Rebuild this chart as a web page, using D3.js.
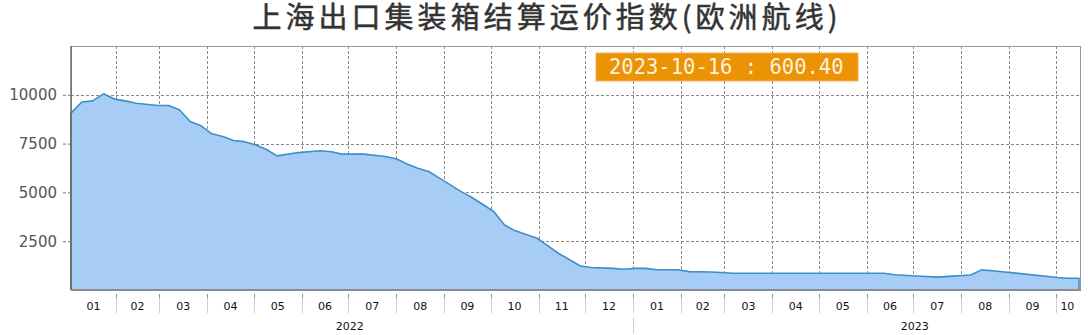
<!DOCTYPE html>
<html>
<head>
<meta charset="utf-8">
<script src="https://cdn.jsdelivr.net/npm/d3@7"></script>
<style>
  body { margin: 0; background: #fff; }
  svg { display: block; }
</style>
</head>
<body>
<div id="chart"></div>
<script>
var WIDTH = 1088
var HEIGHT = 335

// weekly index readings (vertices of the curve)
var dates = ["2022-01-03","2022-01-10","2022-01-17","2022-01-24","2022-01-31","2022-02-07","2022-02-14","2022-02-28",
  "2022-03-07","2022-03-14","2022-03-21","2022-03-28","2022-04-04","2022-04-11","2022-04-18","2022-04-25",
  "2022-05-02","2022-05-09","2022-05-16","2022-05-30","2022-06-13","2022-06-20","2022-06-27","2022-07-11",
  "2022-07-25","2022-08-01","2022-08-08","2022-08-15","2022-08-22","2022-08-29","2022-09-12","2022-09-19",
  "2022-10-03","2022-10-10","2022-10-17","2022-10-31","2022-11-07","2022-11-14","2022-11-28","2022-12-05",
  "2022-12-19","2022-12-26","2023-01-02","2023-01-09","2023-01-16","2023-01-30","2023-02-06","2023-02-20",
  "2023-02-27","2023-03-06","2023-04-03","2023-05-08","2023-06-12","2023-06-19","2023-07-03","2023-07-17",
  "2023-07-24","2023-08-07","2023-08-14","2023-08-21","2023-10-02","2023-10-09","2023-10-16"]
var values = [9060,9630,9690,10050,9780,9690,9570,9450,
  9450,9230,8630,8410,8000,7860,7660,7600,
  7440,7210,6870,7040,7130,7080,6960,6960,
  6840,6720,6460,6240,6070,5730,5040,4740,
  4020,3330,3030,2650,2260,1870,1230,1150,
  1110,1060,1110,1110,1040,1040,940,920,
  900,860,855,855,855,780,720,660,
  700,770,1030,990,640,605,600.40]
var yTicks = [2500,5000,7500,10000]
var years = ["2022","2023"]
var title = "上海出口集装箱结算运价指数(欧洲航线)"
var lastLabel = "2023-10-16 : 600.40"

var parse = d3.timeParse("%Y-%m-%d")
var data = dates.map(function(d,i){ return {date: parse(d), value: values[i]} })

var pLeft = 71, pRight = 1079, pTop = 46, pBottom = 290, frameRight = 1081
var start = data[0].date, end = data[data.length-1].date

var x = d3.scaleTime().domain([start, end]).range([pLeft, pRight])
var y = d3.scaleLinear().domain([0, 12500]).range([pBottom, pTop])

var svg = d3.select("#chart").append("svg")
  .attr("width", WIDTH)
  .attr("height", HEIGHT)

// title
svg.append("text")
  .attr("x", 545).attr("y", 28)
  .attr("text-anchor", "middle")
  .attr("textLength", 585)
  .attr("lengthAdjust", "spacing")
  .style("font-family", "'Noto Sans CJK SC', sans-serif")
  .style("font-size", "29px")
  .style("fill", "#333")
  .style("stroke", "#333")
  .style("stroke-width", 0.5)
  .text(title)

var months = d3.timeMonth.range(d3.timeMonth.ceil(start), end)

// area
var area = d3.area()
  .x(function(d){ return x(d.date) })
  .y0(y(0))
  .y1(function(d){ return y(d.value) })

svg.append("path")
  .datum(data)
  .attr("d", area)
  .attr("fill", "#a7ccf5")
  .attr("stroke", "none")

// grid
var grid = svg.append("g")
grid.selectAll(".vg").data(months).enter().append("line")
  .attr("x1", function(d){ return Math.round(x(d)) + 0.5 })
  .attr("x2", function(d){ return Math.round(x(d)) + 0.5 })
  .attr("y1", pTop).attr("y2", pBottom)
  .attr("stroke", "#8a8a8a").attr("stroke-dasharray", "3,2")
grid.selectAll(".hg").data(yTicks).enter().append("line")
  .attr("x1", pLeft).attr("x2", frameRight)
  .attr("y1", function(d){ return Math.round(y(d)) + 0.5 })
  .attr("y2", function(d){ return Math.round(y(d)) + 0.5 })
  .attr("stroke", "#8a8a8a").attr("stroke-dasharray", "3,2")

// redraw the area over the grid (grid only shows above the curve)
svg.append("path")
  .datum(data)
  .attr("d", area)
  .attr("fill", "#a7ccf5")

// outline
var line = d3.line()
  .x(function(d){ return x(d.date) })
  .y(function(d){ return y(d.value) })
var outline = [{date: start, value: 0}].concat(data).concat([{date: end, value: 0}])
svg.append("path")
  .datum(outline)
  .attr("d", line)
  .attr("fill", "none")
  .attr("stroke", "#3d8fc8")
  .attr("stroke-width", 1.6)
  .attr("stroke-linejoin", "round")

// frame
svg.append("rect")
  .attr("x", pLeft + 0.5).attr("y", pTop + 0.5)
  .attr("width", frameRight - pLeft - 1).attr("height", pBottom - pTop)
  .attr("fill", "none").attr("stroke", "#999")
svg.append("line")
  .attr("x1", pLeft).attr("x2", pLeft)
  .attr("y1", pTop).attr("y2", pBottom)
  .attr("stroke", "#555").attr("stroke-width", 1.2)
svg.append("line")
  .attr("x1", pLeft).attr("x2", frameRight)
  .attr("y1", pBottom).attr("y2", pBottom)
  .attr("stroke", "#8c8c8c").attr("stroke-width", 1.8)

// y axis
var yAxis = svg.append("g")
  .attr("transform", "translate(" + pLeft + ",0)")
  .call(d3.axisLeft(y).tickValues(yTicks).tickFormat(d3.format("d")).tickSizeInner(9).tickSizeOuter(0).tickPadding(5))
yAxis.select(".domain").remove()
yAxis.selectAll("line").attr("stroke", "#777").attr("stroke-dasharray", "3,2")
yAxis.selectAll("text")
  .style("font-family", "'DejaVu Sans', sans-serif")
  .style("font-size", "15px")
  .attr("fill", "#555")

// month separators and labels
var fmt = d3.timeFormat("%m")
var sep = svg.append("g")
sep.selectAll("line").data(months).enter().append("line")
  .attr("x1", function(d){ return Math.round(x(d)) + 0.5 })
  .attr("x2", function(d){ return Math.round(x(d)) + 0.5 })
  .attr("y1", 294).attr("y2", 313)
  .attr("stroke", "#d0d0d0")
sep.selectAll("rect").data(months).enter().append("rect")
  .attr("x", function(d){ return Math.round(x(d)) })
  .attr("y", 294).attr("width", 1).attr("height", 4)
  .attr("fill", "#999")

var monthStarts = [start].concat(months)
svg.append("g").selectAll("text").data(monthStarts).enter().append("text")
  .attr("x", function(d){
    var a = Math.max(x(d), pLeft)
    var b = Math.min(x(d3.timeMonth.offset(d3.timeMonth.floor(d), 1)), pRight)
    return (a + b) / 2
  })
  .attr("y", 310)
  .attr("text-anchor", "middle")
  .style("font-family", "'DejaVu Sans', sans-serif")
  .style("font-size", "11px")
  .attr("fill", "#111")
  .text(function(d){ return fmt(d) })

// years
svg.append("g").selectAll("text").data(years).enter().append("text")
  .attr("x", function(d){ return x(new Date(+d, 6, 2)) })
  .attr("y", 330)
  .attr("text-anchor", "middle")
  .style("font-family", "'DejaVu Sans', sans-serif")
  .style("font-size", "11px")
  .attr("fill", "#111")
  .text(function(d){ return d })
svg.append("line")
  .attr("x1", Math.round(x(new Date(2023,0,1))) + 0.5)
  .attr("x2", Math.round(x(new Date(2023,0,1))) + 0.5)
  .attr("y1", 318).attr("y2", 334)
  .attr("stroke", "#ccc")

// last value box
svg.append("rect")
  .attr("x", 596).attr("y", 53).attr("width", 262).attr("height", 28)
  .attr("fill", "#ec9205").attr("stroke", "#f4b458")
svg.append("text")
  .attr("x", 609).attr("y", 74)
  .style("font-family", "'DejaVu Sans Mono', monospace")
  .style("font-size", "20.5px")
  .attr("fill", "#fff3dc")
  .text(lastLabel)
</script>
</body>
</html>
